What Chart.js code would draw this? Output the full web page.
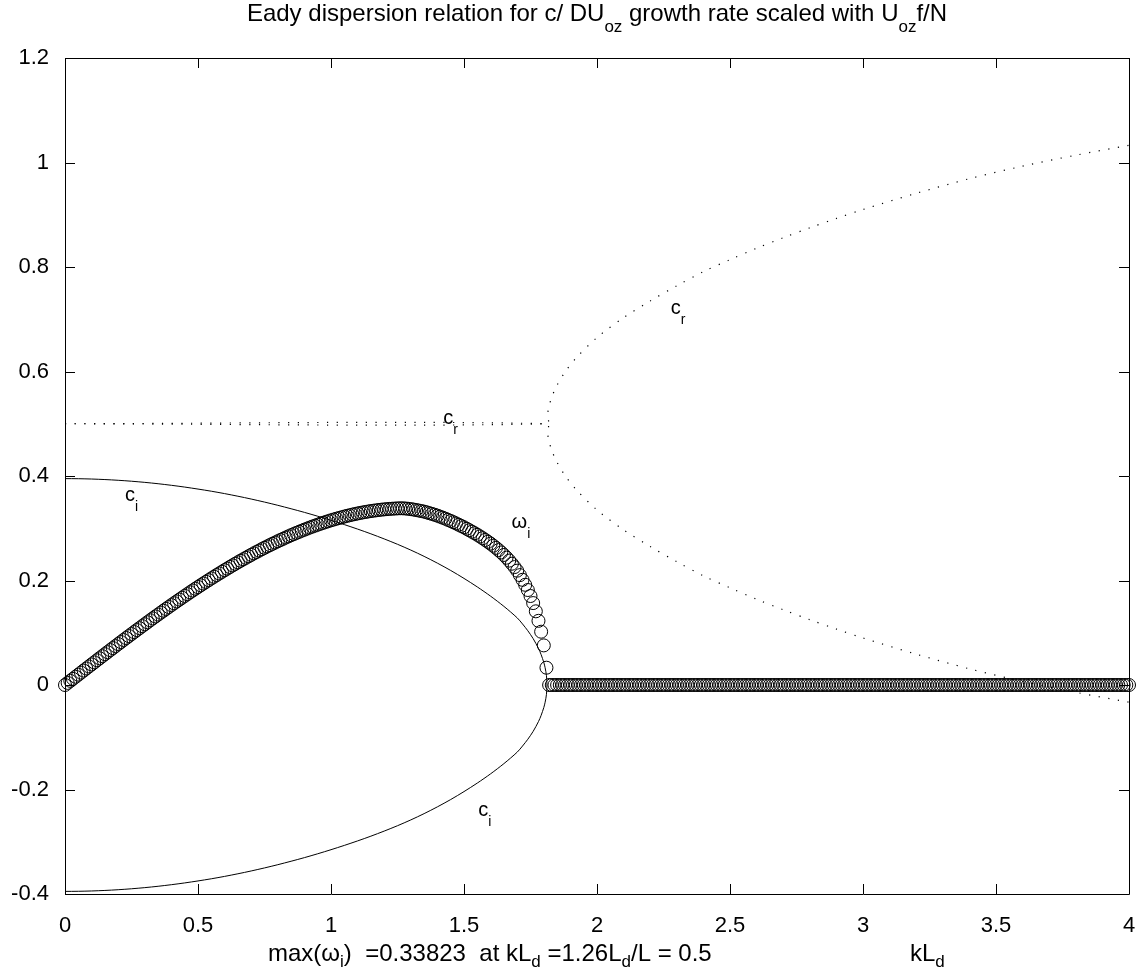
<!DOCTYPE html>
<html>
<head>
<meta charset="utf-8">
<script src="https://cdn.jsdelivr.net/npm/chart.js@4.4.0/dist/chart.umd.min.js"></script>
<style>
  html, body { margin: 0; padding: 0; background: #fff; }
  canvas { display: block; }
</style>
</head>
<body>
<canvas id="chart" width="1138" height="969"></canvas>
<script>
// wavenumber kL_d where the growth rate circles are plotted
const omegaK = [
  0, 0.01, 0.02, 0.03, 0.04, 0.05, 0.06, 0.07, 0.08, 0.09,
  0.1, 0.11, 0.12, 0.13, 0.14, 0.15, 0.16, 0.17, 0.18, 0.19,
  0.2, 0.21, 0.22, 0.23, 0.24, 0.25, 0.26, 0.27, 0.28, 0.29,
  0.3, 0.31, 0.32, 0.33, 0.34, 0.35, 0.36, 0.37, 0.38, 0.39,
  0.4, 0.41, 0.42, 0.43, 0.44, 0.45, 0.46, 0.47, 0.48, 0.49,
  0.5, 0.51, 0.52, 0.53, 0.54, 0.55, 0.56, 0.57, 0.58, 0.59,
  0.6, 0.61, 0.62, 0.63, 0.64, 0.65, 0.66, 0.67, 0.68, 0.69,
  0.7, 0.71, 0.72, 0.73, 0.74, 0.75, 0.76, 0.77, 0.78, 0.79,
  0.8, 0.81, 0.82, 0.83, 0.84, 0.85, 0.86, 0.87, 0.88, 0.89,
  0.9, 0.91, 0.92, 0.93, 0.94, 0.95, 0.96, 0.97, 0.98, 0.99,
  1, 1.01, 1.02, 1.03, 1.04, 1.05, 1.06, 1.07, 1.08, 1.09,
  1.1, 1.11, 1.12, 1.13, 1.14, 1.15, 1.16, 1.17, 1.18, 1.19,
  1.2, 1.21, 1.22, 1.23, 1.24, 1.25, 1.26, 1.27, 1.28, 1.29,
  1.3, 1.31, 1.32, 1.33, 1.34, 1.35, 1.36, 1.37, 1.38, 1.39,
  1.4, 1.41, 1.42, 1.43, 1.44, 1.45, 1.46, 1.47, 1.48, 1.49,
  1.5, 1.51, 1.52, 1.53, 1.54, 1.55, 1.56, 1.57, 1.58, 1.59,
  1.6, 1.61, 1.62, 1.63, 1.64, 1.65, 1.66, 1.67, 1.68, 1.69,
  1.7, 1.71, 1.72, 1.73, 1.74, 1.75, 1.76, 1.77, 1.78, 1.79,
  1.8, 1.81, 1.82, 1.83, 1.84, 1.85, 1.86, 1.87, 1.88, 1.89,
  1.9, 1.91, 1.92, 1.93, 1.94, 1.95, 1.96, 1.97, 1.98, 1.99,
  2, 2.01, 2.02, 2.03, 2.04, 2.05, 2.06, 2.07, 2.08, 2.09,
  2.1, 2.11, 2.12, 2.13, 2.14, 2.15, 2.16, 2.17, 2.18, 2.19,
  2.2, 2.21, 2.22, 2.23, 2.24, 2.25, 2.26, 2.27, 2.28, 2.29,
  2.3, 2.31, 2.32, 2.33, 2.34, 2.35, 2.36, 2.37, 2.38, 2.39,
  2.4, 2.41, 2.42, 2.43, 2.44, 2.45, 2.46, 2.47, 2.48, 2.49,
  2.5, 2.51, 2.52, 2.53, 2.54, 2.55, 2.56, 2.57, 2.58, 2.59,
  2.6, 2.61, 2.62, 2.63, 2.64, 2.65, 2.66, 2.67, 2.68, 2.69,
  2.7, 2.71, 2.72, 2.73, 2.74, 2.75, 2.76, 2.77, 2.78, 2.79,
  2.8, 2.81, 2.82, 2.83, 2.84, 2.85, 2.86, 2.87, 2.88, 2.89,
  2.9, 2.91, 2.92, 2.93, 2.94, 2.95, 2.96, 2.97, 2.98, 2.99,
  3, 3.01, 3.02, 3.03, 3.04, 3.05, 3.06, 3.07, 3.08, 3.09,
  3.1, 3.11, 3.12, 3.13, 3.14, 3.15, 3.16, 3.17, 3.18, 3.19,
  3.2, 3.21, 3.22, 3.23, 3.24, 3.25, 3.26, 3.27, 3.28, 3.29,
  3.3, 3.31, 3.32, 3.33, 3.34, 3.35, 3.36, 3.37, 3.38, 3.39,
  3.4, 3.41, 3.42, 3.43, 3.44, 3.45, 3.46, 3.47, 3.48, 3.49,
  3.5, 3.51, 3.52, 3.53, 3.54, 3.55, 3.56, 3.57, 3.58, 3.59,
  3.6, 3.61, 3.62, 3.63, 3.64, 3.65, 3.66, 3.67, 3.68, 3.69,
  3.7, 3.71, 3.72, 3.73, 3.74, 3.75, 3.76, 3.77, 3.78, 3.79,
  3.8, 3.81, 3.82, 3.83, 3.84, 3.85, 3.86, 3.87, 3.88, 3.89,
  3.9, 3.91, 3.92, 3.93, 3.94, 3.95, 3.96, 3.97, 3.98, 3.99,
  4
];

// growth rate omega_i (circles), one value per omegaK
const omegaVal = [
  0, 0.0040, 0.0079, 0.0118, 0.0158, 0.0197, 0.0237, 0.0276, 0.0316, 0.0355,
  0.0394, 0.0433, 0.0473, 0.0512, 0.0551, 0.0590, 0.0629, 0.0668, 0.0706, 0.0745,
  0.0784, 0.0822, 0.0861, 0.0899, 0.0937, 0.0975, 0.1013, 0.1051, 0.1088, 0.1126,
  0.1163, 0.1201, 0.1238, 0.1275, 0.1312, 0.1348, 0.1385, 0.1421, 0.1457, 0.1493,
  0.1529, 0.1564, 0.1600, 0.1635, 0.1670, 0.1705, 0.1739, 0.1774, 0.1808, 0.1842,
  0.1875, 0.1909, 0.1942, 0.1975, 0.2007, 0.2040, 0.2072, 0.2104, 0.2135, 0.2167,
  0.2198, 0.2228, 0.2259, 0.2289, 0.2319, 0.2348, 0.2378, 0.2406, 0.2435, 0.2463,
  0.2491, 0.2519, 0.2546, 0.2573, 0.2600, 0.2626, 0.2652, 0.2677, 0.2702, 0.2727,
  0.2751, 0.2775, 0.2799, 0.2822, 0.2845, 0.2867, 0.2889, 0.2911, 0.2932, 0.2953,
  0.2973, 0.2993, 0.3013, 0.3032, 0.3050, 0.3068, 0.3086, 0.3103, 0.3120, 0.3136,
  0.3152, 0.3167, 0.3182, 0.3196, 0.3210, 0.3224, 0.3237, 0.3249, 0.3261, 0.3272,
  0.3283, 0.3293, 0.3303, 0.3312, 0.3321, 0.3329, 0.3336, 0.3343, 0.3350, 0.3356,
  0.3361, 0.3366, 0.3370, 0.3374, 0.3377, 0.3380, 0.3382, 0.3381, 0.3378, 0.3373,
  0.3366, 0.3358, 0.3349, 0.3339, 0.3329, 0.3318, 0.3304, 0.3289, 0.3274, 0.3258,
  0.3241, 0.3222, 0.3203, 0.3183, 0.3161, 0.3139, 0.3116, 0.3092, 0.3068, 0.3043,
  0.3018, 0.2990, 0.2962, 0.2934, 0.2905, 0.2875, 0.2843, 0.2810, 0.2776, 0.2741,
  0.2705, 0.2666, 0.2625, 0.2582, 0.2537, 0.2489, 0.2437, 0.2381, 0.2321, 0.2257,
  0.2188, 0.2103, 0.2013, 0.1918, 0.1818, 0.1703, 0.1568, 0.1410, 0.1228, 0.1020,
  0.0758, 0.0331, 0, 0, 0, 0, 0, 0, 0, 0,
  0, 0, 0, 0, 0, 0, 0, 0, 0, 0,
  0, 0, 0, 0, 0, 0, 0, 0, 0, 0,
  0, 0, 0, 0, 0, 0, 0, 0, 0, 0,
  0, 0, 0, 0, 0, 0, 0, 0, 0, 0,
  0, 0, 0, 0, 0, 0, 0, 0, 0, 0,
  0, 0, 0, 0, 0, 0, 0, 0, 0, 0,
  0, 0, 0, 0, 0, 0, 0, 0, 0, 0,
  0, 0, 0, 0, 0, 0, 0, 0, 0, 0,
  0, 0, 0, 0, 0, 0, 0, 0, 0, 0,
  0, 0, 0, 0, 0, 0, 0, 0, 0, 0,
  0, 0, 0, 0, 0, 0, 0, 0, 0, 0,
  0, 0, 0, 0, 0, 0, 0, 0, 0, 0,
  0, 0, 0, 0, 0, 0, 0, 0, 0, 0,
  0, 0, 0, 0, 0, 0, 0, 0, 0, 0,
  0, 0, 0, 0, 0, 0, 0, 0, 0, 0,
  0, 0, 0, 0, 0, 0, 0, 0, 0, 0,
  0, 0, 0, 0, 0, 0, 0, 0, 0, 0,
  0, 0, 0, 0, 0, 0, 0, 0, 0, 0,
  0, 0, 0, 0, 0, 0, 0, 0, 0, 0,
  0, 0, 0, 0, 0, 0, 0, 0, 0, 0,
  0, 0, 0, 0, 0, 0, 0, 0, 0, 0,
  0
];

// imaginary phase speed c_i (solid line), upper and lower branch
const ciK = [0, 0.05, 0.1, 0.15, 0.2, 0.25, 0.3, 0.35, 0.4, 0.45, 0.5, 0.55, 0.6, 0.65, 0.7, 0.75,
  0.8, 0.85, 0.9, 0.95, 1, 1.05, 1.1, 1.15, 1.2, 1.25, 1.3, 1.35, 1.4, 1.45, 1.5, 1.55, 1.6, 1.65,
  1.7, 1.72, 1.74, 1.76, 1.78, 1.79, 1.8, 1.805, 1.81, 1.812];
const ciUpper = [0.3950, 0.3948, 0.3942, 0.3932, 0.3918, 0.3900, 0.3878, 0.3852, 0.3822, 0.3788,
  0.3750, 0.3709, 0.3663, 0.3613, 0.3559, 0.3501, 0.3439, 0.3373, 0.3304, 0.3230,
  0.3152, 0.3070, 0.2984, 0.2893, 0.2796, 0.2693, 0.2582, 0.2462, 0.2332, 0.2192,
  0.2040, 0.1877, 0.1700, 0.1505, 0.1285,
  0.1168, 0.1038, 0.0887, 0.0700, 0.0581, 0.0431, 0.0330, 0.0178, 0];
const ciLower = [-0.3950, -0.3948, -0.3942, -0.3932, -0.3918, -0.3900, -0.3878, -0.3852, -0.3822, -0.3788,
  -0.3750, -0.3709, -0.3663, -0.3613, -0.3559, -0.3501, -0.3439, -0.3373, -0.3304, -0.3230,
  -0.3152, -0.3070, -0.2984, -0.2893, -0.2796, -0.2693, -0.2582, -0.2462, -0.2332, -0.2192,
  -0.2040, -0.1877, -0.1700, -0.1505, -0.1285,
  -0.1168, -0.1038, -0.0887, -0.0700, -0.0581, -0.0431, -0.0330, -0.0178, 0];

// real phase speed c_r (dotted), splits into two branches past the cutoff
const crK = [0, 1.812, 1.815, 1.82, 1.83, 1.85, 1.88, 1.92, 2, 2.1, 2.2, 2.3, 2.4, 2.5, 2.6, 2.7,
  2.8, 2.9, 3, 3.2, 3.4, 3.6, 3.8, 4];
const crUpper = [0.5, 0.5, 0.521, 0.534, 0.551, 0.574, 0.599, 0.625, 0.665, 0.703, 0.735, 0.764,
  0.791, 0.814, 0.836, 0.856, 0.875, 0.893, 0.910, 0.941, 0.969, 0.993, 1.014, 1.033];
const crLower = [0.5, 0.5, 0.479, 0.466, 0.449, 0.426, 0.401, 0.375, 0.335, 0.297, 0.265, 0.236,
  0.209, 0.186, 0.164, 0.144, 0.125, 0.107, 0.090, 0.059, 0.031, 0.007, -0.014, -0.033];

const FONT = '"Liberation Sans", Arial, Helvetica, sans-serif';

function pts(xs, ys) {
  return xs.map((x, i) => ({ x: x, y: ys[i] }));
}

// text with subscripts: parts = [[text, isSub], ...]
function richWidth(ctx, parts, size, subSize) {
  let w = 0;
  parts.forEach(p => {
    ctx.font = (p[1] ? subSize : size) + 'px ' + FONT;
    w += ctx.measureText(p[0]).width;
  });
  return w;
}

function drawRich(ctx, parts, x, y, size, subSize, drop) {
  ctx.textAlign = 'left';
  ctx.textBaseline = 'alphabetic';
  ctx.fillStyle = '#000';
  parts.forEach(p => {
    ctx.font = (p[1] ? subSize : size) + 'px ' + FONT;
    ctx.fillText(p[0], x, p[1] ? y + drop : y);
    x += ctx.measureText(p[0]).width;
  });
}

// frame, inward ticks and all the texts
const decorPlugin = {
  id: 'decor',
  afterDraw(chart) {
    const ctx = chart.ctx;
    const area = chart.chartArea;
    const xs = chart.scales.x;
    const ys = chart.scales.y;
    ctx.save();
    ctx.strokeStyle = '#000';
    ctx.lineWidth = 1;
    ctx.beginPath();
    ctx.rect(area.left + 0.5, area.top + 0.5, area.right - area.left, area.bottom - area.top);
    xs.ticks.forEach(t => {
      const px = Math.round(xs.getPixelForValue(t.value)) + 0.5;
      ctx.moveTo(px, area.bottom);
      ctx.lineTo(px, area.bottom - 10);
      ctx.moveTo(px, area.top);
      ctx.lineTo(px, area.top + 10);
    });
    ys.ticks.forEach(t => {
      const py = Math.round(ys.getPixelForValue(t.value)) + 0.5;
      ctx.moveTo(area.left, py);
      ctx.lineTo(area.left + 10, py);
      ctx.moveTo(area.right, py);
      ctx.lineTo(area.right - 10, py);
    });
    ctx.stroke();

    // curve labels, anchored in data coordinates
    const labels = [
      { k: 0.2256, v: 0.353, parts: [['c', false], ['i', true]] },
      { k: 1.422, v: 0.4995, parts: [['c', false], ['r', true]] },
      { k: 1.679, v: 0.300, parts: [['\u03c9', false], ['i', true]] },
      { k: 2.277, v: 0.711, parts: [['c', false], ['r', true]] },
      { k: 1.554, v: -0.25, parts: [['c', false], ['i', true]] }
    ];
    labels.forEach(l => {
      drawRich(ctx, l.parts, xs.getPixelForValue(l.k), ys.getPixelForValue(l.v), 20, 14, 10);
    });

    // title
    const title = [['Eady dispersion relation for c/ DU', false], ['oz', true],
      [' growth rate scaled with U', false], ['oz', true], ['f/N', false]];
    const tw = richWidth(ctx, title, 24, 17);
    drawRich(ctx, title, (area.left + area.right) / 2 - tw / 2, 21, 24, 17, 11);

    // bottom texts
    const note = [['max(\u03c9', false], ['i', true], [')  =0.33823  at kL', false], ['d', true],
      [' =1.26L', false], ['d', true], ['/L = 0.5', false]];
    drawRich(ctx, note, 268, 961, 24, 17, 6);
    drawRich(ctx, [['kL', false], ['d', true]], 910, 961, 24, 17, 6);
    ctx.restore();
  }
};

new Chart(document.getElementById('chart'), {
  type: 'line',
  data: {
    datasets: [
      {
        label: 'omega_i',
        data: pts(omegaK, omegaVal),
        showLine: false,
        pointStyle: 'circle',
        pointRadius: 6.5,
        pointBorderWidth: 1,
        pointBorderColor: '#000',
        pointBackgroundColor: 'rgba(0,0,0,0)',
        clip: false
      },
      {
        label: 'c_i upper',
        data: pts(ciK, ciUpper),
        borderColor: '#000',
        borderWidth: 1,
        pointRadius: 0,
        tension: 0.3
      },
      {
        label: 'c_i lower',
        data: pts(ciK, ciLower),
        borderColor: '#000',
        borderWidth: 1,
        pointRadius: 0,
        tension: 0.3
      },
      {
        label: 'c_r upper',
        data: pts(crK, crUpper),
        borderColor: '#000',
        borderWidth: 1.2,
        borderDash: [1.2, 8.5],
        pointRadius: 0,
        tension: 0.3
      },
      {
        label: 'c_r lower',
        data: pts(crK, crLower),
        borderColor: '#000',
        borderWidth: 1.2,
        borderDash: [1.2, 8.5],
        pointRadius: 0,
        tension: 0.3
      }
    ]
  },
  options: {
    responsive: false,
    animation: false,
    devicePixelRatio: 1,
    layout: { padding: { top: 58, right: 9, left: 0, bottom: 0 } },
    plugins: {
      legend: { display: false },
      tooltip: { enabled: false },
      title: { display: false }
    },
    scales: {
      x: {
        type: 'linear',
        min: 0,
        max: 4,
        grid: { display: false },
        border: { display: false },
        ticks: {
          stepSize: 0.5,
          padding: 11,
          color: '#000',
          font: { family: FONT, size: 22 },
          maxRotation: 0,
          callback: v => String(Math.round(v * 10) / 10)
        },
        afterFit: s => { s.height = 75; s.paddingLeft = 0; s.paddingRight = 0; }
      },
      y: {
        type: 'linear',
        min: -0.4,
        max: 1.2,
        grid: { display: false },
        border: { display: false },
        ticks: {
          stepSize: 0.2,
          padding: 8,
          color: '#000',
          font: { family: FONT, size: 22 },
          callback: v => String(Math.round(v * 10) / 10)
        },
        afterFit: s => { s.width = 65; s.paddingTop = 0; s.paddingBottom = 0; }
      }
    }
  },
  plugins: [decorPlugin]
});
</script>
</body>
</html>
